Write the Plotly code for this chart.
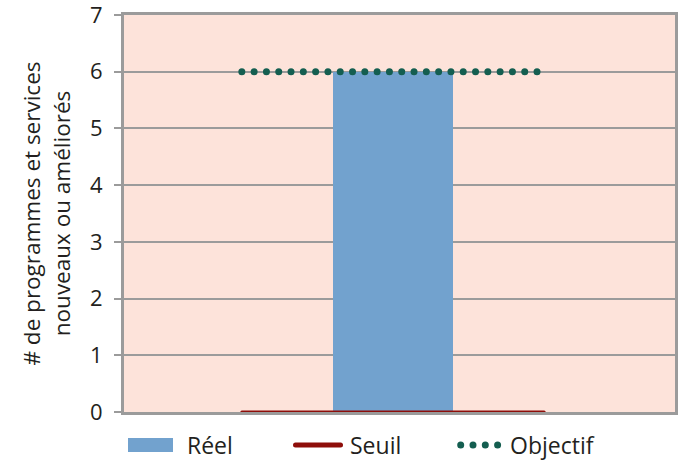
import plotly.graph_objects as go

# ---- data -------------------------------------------------------------
categories = ["Réel"]
reel = [6]          # programmes et services nouveaux ou améliorés
seuil = [0]         # threshold
objectif = [6]      # target
y_ticks = [0, 1, 2, 3, 4, 5, 6, 7]
legend_labels = ["Réel", "Seuil", "Objectif"]

# ---- style ------------------------------------------------------------
FONT = "Open Sans"
TXT = "#231F20"
GRAY = "#9B9B9B"
BG = "#FDE3DA"
C_BAR = "#72A2CE"
C_SEUIL = "#8E0E0A"
C_OBJ = "#145E50"
DOTS = "0px,12.3px"

W, H = 678, 461
ML, MR, MT, MB = 124, 3, 15, 49
PW, PH = W - ML - MR, H - MT - MB

BAR_W = 1.0                     # bar width in x units
X_RANGE = [-2.242, 2.35]        # keeps the bar left of centre
SPAN = 1.26                     # half-length of the reference lines

def px_x(px):
    return (px - ML) / PW

def px_y(py):
    return (H - MB - py) / PH

fig = go.Figure()

fig.add_trace(go.Bar(
    x=[0] * len(reel), y=reel, width=BAR_W, name=legend_labels[0],
    marker=dict(color=C_BAR, line=dict(width=0)), showlegend=False,
))
fig.add_trace(go.Scatter(
    x=[-SPAN, SPAN], y=[seuil[0], seuil[0]], mode="lines", name=legend_labels[1],
    line=dict(color=C_SEUIL, width=3), showlegend=False, cliponaxis=False,
))
fig.add_trace(go.Scatter(
    x=[-SPAN, SPAN], y=[objectif[0], objectif[0]], mode="lines", name=legend_labels[2],
    line=dict(color=C_OBJ, width=7, dash=DOTS), showlegend=False, cliponaxis=False,
))

# ---- hand-drawn legend below the plot ---------------------------------
shapes = [
    dict(type="rect", xref="paper", yref="paper",
         x0=px_x(128), x1=px_x(173), y0=px_y(452), y1=px_y(438),
         fillcolor=C_BAR, line=dict(width=0)),
    dict(type="line", xref="paper", yref="paper",
         x0=px_x(295.5), x1=px_x(340.5), y0=px_y(445), y1=px_y(445),
         line=dict(color=C_SEUIL, width=5)),
    dict(type="line", xref="paper", yref="paper",
         x0=px_x(460.7), x1=px_x(498.5), y0=px_y(445), y1=px_y(445),
         line=dict(color=C_OBJ, width=7, dash=DOTS)),
]
annotations = [
    dict(text=lbl, xref="paper", yref="paper", x=px_x(xp), y=px_y(445),
         xanchor="left", yanchor="middle", showarrow=False,
         font=dict(family=FONT, size=23, color=TXT))
    for lbl, xp in zip(legend_labels, [185, 348, 508])
]

fig.update_layout(
    width=W, height=H,
    margin=dict(l=ML, r=MR, t=MT, b=MB),
    paper_bgcolor="white", plot_bgcolor=BG,
    font=dict(family=FONT, size=22, color=TXT),
    showlegend=False, bargap=0,
    shapes=shapes, annotations=annotations,
)
fig.update_xaxes(
    range=X_RANGE, showgrid=False, zeroline=False, showticklabels=False, ticks="",
    showline=True, mirror=True, linecolor=GRAY, linewidth=3,
)
fig.update_yaxes(
    range=[0, 7], tickvals=y_ticks, showgrid=True, gridcolor=GRAY, gridwidth=2,
    zeroline=False, showline=True, mirror=True, linecolor=GRAY, linewidth=3,
    ticks="outside", ticklen=7, tickwidth=2, tickcolor=GRAY, ticklabelstandoff=7,
    ticklabeloverflow="allow",
    tickfont=dict(family=FONT, size=22, color=TXT),
    title=dict(text="# de programmes et services<br>nouveaux ou améliorés",
               font=dict(family=FONT, size=22.5, color=TXT), standoff=14),
    automargin=False,
)

# round line caps so the dotted dash pattern renders as circles
post = """
var gd = document.getElementById('{plot_id}');
function roundCaps() {
  gd.querySelectorAll('.scatterlayer path.js-line, .shapelayer path').forEach(function (p) {
    p.style.strokeLinecap = 'round';
  });
}
roundCaps();
gd.on('plotly_afterplot', roundCaps);
"""
fig.write_html("out.html", post_script=post)
